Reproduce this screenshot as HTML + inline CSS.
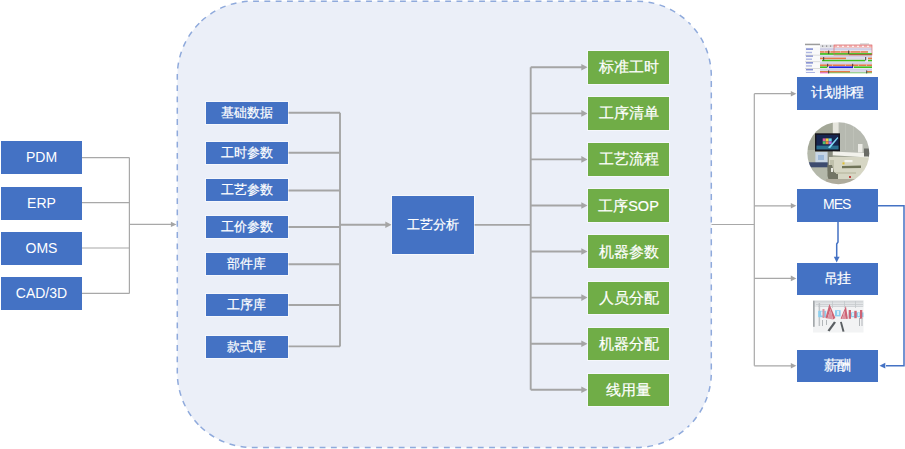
<!DOCTYPE html>
<html><head><meta charset="utf-8">
<style>
html,body{margin:0;padding:0;background:#fff;}
body{width:905px;height:449px;position:relative;overflow:hidden;font-family:"Liberation Sans",sans-serif;}
svg.bg{position:absolute;left:0;top:0;}
.b{position:absolute;color:#fff;font-weight:500;-webkit-text-stroke:0.2px #fff;display:flex;align-items:center;justify-content:center;white-space:nowrap;box-sizing:border-box;}
.bl{background:#4472C4;}
.gr{background:#70AD47;}
.l{-webkit-text-stroke:0;left:1px;width:81px;height:33px;font-size:14px;padding-bottom:1px;}
.m{left:205.6px;width:82px;height:22px;font-size:13.3px;outline:1px solid rgba(255,255,255,.5);}
.g{left:588px;width:81px;height:32.5px;font-size:14.5px;padding-top:1px;outline:1px solid rgba(255,255,255,.5);}
.r{left:796.5px;width:81.5px;height:32.6px;font-size:14px;letter-spacing:-1px;padding-right:1px;}
</style></head><body>
<svg class="bg" width="905" height="449" viewBox="0 0 905 449">
<defs>
<filter id="bl" x="-5%" y="-5%" width="110%" height="110%"><feGaussianBlur stdDeviation="0.45"/></filter>
<filter id="bl2" x="-5%" y="-5%" width="110%" height="110%"><feGaussianBlur stdDeviation="0.3"/></filter>
<clipPath id="cc"><circle cx="838.3" cy="153.2" r="31"/></clipPath>
</defs>
<rect x="177.3" y="1.2" width="534" height="446.3" rx="75" ry="75" fill="#EBEFF8"/>
<g fill="none" stroke="#8FAADC" stroke-width="1.5" stroke-dasharray="5.85 5.45">
<path d="M199.27,23.17A75,75 0 0 1 252.30,1.20H636.30A75,75 0 0 1 689.33,23.17" stroke-dashoffset="-3.10"/>
<path d="M689.33,23.17A75,75 0 0 1 711.30,76.20V372.50A75,75 0 0 1 689.33,425.53" stroke-dashoffset="-7.20"/>
<path d="M689.33,425.53A75,75 0 0 1 636.30,447.50H252.30A75,75 0 0 1 199.27,425.53" stroke-dashoffset="-8.05"/>
<path d="M199.27,425.53A75,75 0 0 1 177.30,372.50V76.20A75,75 0 0 1 199.27,23.17" stroke-dashoffset="-1.25"/>
</g>
<g stroke="#A8A8A8" stroke-width="1.2" fill="none">
<path d="M82,157.6H129.4M82,202.7H129.4M82,248H129.4M82,293.4H129.4M129.4,157.6V293.4"/>
<path d="M129.4,224.4H172"/>
<path d="M711.5,224.5H754.3M754.3,93.7V365.8"/>
<path d="M754.3,93.7H792M754.3,205.8H792M754.3,278.4H792M754.3,365.8H792"/>
</g>
<g stroke="#A5A5A5" stroke-width="1.9" fill="none">
<path d="M288,112.8H340M288,152.8H340M288,190.5H340M288,227H340M288,264.2H340M288,305H340M288,346.4H340M340,112.8V346.4"/>
<path d="M340,224.8H387"/>
<path d="M474,224.9H530.7M530.7,67.3V389.7"/>
<path d="M530.7,67.3H583M530.7,113.4H583M530.7,159.4H583M530.7,205.5H583M530.7,251.5H583M530.7,297.6H583M530.7,343.7H583M530.7,389.7H583"/>
</g>
<g fill="#A5A5A5">
<path d="M170.9,221.7L176.5,224.4L170.9,227.1Z"/>
<path d="M385.3,221.5L391.6,224.8L385.3,228.1Z"/>
<path d="M581.3,64.0L587.6,67.3L581.3,70.6Z"/>
<path d="M581.3,110.1L587.6,113.4L581.3,116.7Z"/>
<path d="M581.3,156.1L587.6,159.4L581.3,162.7Z"/>
<path d="M581.3,202.2L587.6,205.5L581.3,208.8Z"/>
<path d="M581.3,248.2L587.6,251.5L581.3,254.8Z"/>
<path d="M581.3,294.3L587.6,297.6L581.3,300.9Z"/>
<path d="M581.3,340.4L587.6,343.7L581.3,347.0Z"/>
<path d="M581.3,386.4L587.6,389.7L581.3,393.0Z"/>
<path d="M790.8,90.9L796.4,93.7L790.8,96.5Z"/>
<path d="M790.8,203.0L796.4,205.8L790.8,208.6Z"/>
<path d="M790.8,275.6L796.4,278.4L790.8,281.2Z"/>
<path d="M790.8,363.0L796.4,365.8L790.8,368.6Z"/>
</g>
<g stroke="#4472C4" stroke-width="1.5" fill="none">
<path d="M838,222V242L836.7,244V257"/>
<path d="M878,205.8H904V365.7H886"/>
</g>
<g fill="#4472C4">
<path d="M833.8,256.8L836.7,262.6L839.6,256.8Z"/>
<path d="M885.3,362.8L879.5,365.7L885.3,368.6Z"/>
</g>
<g id="gantt" filter="url(#bl2)">
<rect x="805" y="43" width="67" height="30" fill="#fff"/>
<rect x="805" y="43.7" width="15" height="1.5" fill="#3a3a3a" opacity=".5"/>
<rect x="860" y="43.5" width="9" height="1.2" fill="#aaa" opacity=".7"/>
<rect x="805" y="47" width="15" height="26" fill="#f9f9fa"/>
<g fill="#3548b8" opacity=".6">
<rect x="806" y="48.3" width="7" height="1.6"/><rect x="806" y="55.2" width="7" height="1.6"/><rect x="806" y="62" width="7" height="1.6"/><rect x="806" y="68.8" width="7" height="1.6"/>
</g>
<g fill="#7080d0" opacity=".55">
<rect x="806" y="51.8" width="6" height="1.4"/><rect x="806" y="58.5" width="6" height="1.4"/><rect x="806" y="65.2" width="6" height="1.4"/><rect x="806" y="72" width="9" height="1"/>
</g>
<g fill="#c8c8c8"><rect x="805" y="54.8" width="15" height=".6"/><rect x="805" y="61.5" width="15" height=".6"/><rect x="805" y="68.2" width="15" height=".6"/></g>
<rect x="820" y="47.6" width="52" height="25.4" fill="#e6e6ef"/>
<rect x="820" y="44.6" width="52" height="3" fill="#dcdce0"/>
<rect x="834" y="45" width="38" height="2.6" fill="#f2b0b0"/>
<g fill="#555" opacity=".7"><rect x="822" y="45.5" width="1.2" height="1.2"/><rect x="826" y="45.5" width="1.2" height="1.2"/><rect x="830" y="45.5" width="1.2" height="1.2"/></g>
<g fill="#fff"><rect x="837" y="45.6" width="2" height="1.2"/><rect x="842" y="45.6" width="2" height="1.2"/><rect x="847" y="45.6" width="2" height="1.2"/><rect x="852" y="45.6" width="2" height="1.2"/><rect x="857" y="45.6" width="2" height="1.2"/><rect x="862" y="45.6" width="2" height="1.2"/><rect x="867" y="45.6" width="2" height="1.2"/></g>
<g fill="#cfcfe6"><rect x="820" y="48.2" width="52" height="2"/><rect x="820" y="55.6" width="52" height="1.6"/><rect x="820" y="62.3" width="52" height="1.6"/><rect x="820" y="69" width="52" height="1.6"/></g>
<g fill="#dcd8e6"><rect x="846" y="57.6" width="18" height="1.6"/><rect x="850" y="71" width="16" height="1.6"/></g>
<g fill="#e47a48"><rect x="820" y="51.2" width="48" height="1.5"/><rect x="820" y="57.6" width="26" height="1.6"/><rect x="868" y="57.6" width="4" height="1.6"/><rect x="820" y="64.4" width="52" height="1.6"/><rect x="820" y="71" width="30" height="1.6"/><rect x="867" y="71" width="5" height="1.6"/></g>
<g fill="#fff" opacity=".6"><rect x="824" y="51.4" width="1" height="1"/><rect x="830" y="51.4" width="1" height="1"/><rect x="840" y="51.4" width="1" height="1"/><rect x="850" y="51.4" width="1" height="1"/><rect x="860" y="51.4" width="1" height="1"/><rect x="832" y="64.7" width="1" height="1"/><rect x="845" y="64.7" width="1" height="1"/><rect x="858" y="64.7" width="1" height="1"/><rect x="866" y="64.7" width="1" height="1"/></g>
<g fill="#3fbf1f"><rect x="820" y="53.1" width="52" height="1.7"/><rect x="822" y="59.8" width="43" height="1.5"/><rect x="868" y="59.8" width="4" height="1.5"/><rect x="820" y="66.4" width="7" height="1.6"/><rect x="854" y="66.4" width="18" height="1.6"/><rect x="828" y="72.6" width="44" height=".6"/></g>
<rect x="849" y="54.3" width="23" height=".8" fill="#8a4a1a"/>
<rect x="829" y="66.4" width="24" height="1.7" fill="#1a22e0"/>
<rect x="820" y="72.5" width="8" height=".8" fill="#e050d0"/>
<rect x="834" y="45" width="38" height="10" fill="none" stroke="#e06060" stroke-width=".6"/>
<g fill="#333" opacity=".75"><rect x="828" y="50.5" width="1.2" height="3.5"/><rect x="848" y="50.5" width="1.2" height="3.5"/><rect x="823" y="57" width="1.2" height="3.5"/><rect x="865" y="57" width="1.2" height="3.5"/><rect x="827" y="63.8" width="1.2" height="3.5"/><rect x="852" y="63.8" width="1.2" height="3.5"/><rect x="828" y="70.4" width="1.2" height="3"/><rect x="866" y="70.4" width="1.2" height="3"/></g>
</g>
<g clip-path="url(#cc)"><g id="photo" filter="url(#bl)">
<rect x="806" y="121" width="66" height="66" fill="#a3a797"/>
<rect x="838" y="121" width="33" height="32" fill="#b6b9b0"/>
<g fill="#c2c5bc" opacity=".7"><rect x="845" y="122" width="1" height="28"/><rect x="853" y="122" width="1" height="28"/></g>
<rect x="832.8" y="121" width="5.8" height="13" fill="#e6e6de"/>
<rect x="806" y="150" width="24" height="36" fill="#b4b8aa"/>
<rect x="815.4" y="152" width="12.3" height="11" fill="#c8d6e4"/>
<rect x="818" y="155" width="6" height="5" fill="#9cb8d8"/>
<rect x="808" y="162.3" width="20" height="5" fill="#3c4b6e"/>
<rect x="827.7" y="151" width="5" height="20" fill="#8a8d80"/>
<rect x="815" y="133.3" width="25" height="18.1" fill="#15161e"/>
<rect x="816.5" y="134.8" width="22" height="14.6" fill="#172550"/>
<rect x="816.5" y="145.6" width="22" height="3.8" fill="#2a7090"/>
<rect x="822.7" y="138.4" width="3" height="2.9" fill="#e060a0"/>
<rect x="825.7" y="138.4" width="3" height="2.9" fill="#f0d040"/>
<rect x="828.7" y="138.4" width="3" height="2.9" fill="#60d0e8"/>
<rect x="822.7" y="141.3" width="3" height="2.9" fill="#50c070"/>
<rect x="825.7" y="141.3" width="3" height="2.9" fill="#f09040"/>
<rect x="828.7" y="141.3" width="3" height="2.9" fill="#b070e0"/>
<path d="M828,147.5L837.5,137L838.3,138L830,148.3Z" fill="#7fd8f4"/>
<path d="M829,157L869,157L869,176L852,182L829,180Z" fill="#d6d6c4"/>
<path d="M832.8,151.4L868.3,153.3L868.3,157.5L832.8,155.2Z" fill="#f2f2ec"/>
<rect x="858" y="144" width="4.5" height="8.5" fill="#ecece6"/>
<rect x="864" y="148.5" width="6" height="8" fill="#6a6c66"/>
<rect x="844.5" y="160" width="8" height="2.2" fill="#f4f4ee"/>
<rect x="842.5" y="162.4" width="2" height="2" fill="#e0c030"/>
<path d="M842,166L861,165.5L861,168L842,168.3Z" fill="#6f7358"/>
<rect x="830" y="160" width="4" height="20" fill="#bfc0ab"/>
<path d="M827.5,165L832,165L834,172L838,174L838,180L829,181L827.5,176Z" fill="#737565"/>
<rect x="831" y="168" width="2" height="4" fill="#e8e8e0"/>
<rect x="836" y="172" width="20" height="2" fill="#c4c4ae"/>
<rect x="826" y="179" width="44" height="8" fill="#aeab9c"/>
<rect x="849" y="176" width="2" height="2" fill="#c04040"/>
</g></g>
<g id="factory" filter="url(#bl)">
<rect x="813" y="300.4" width="50.5" height="32.1" fill="#f2f3f4"/>
<rect x="813" y="300.4" width="50.5" height="6.5" fill="#e2e5e7"/>
<g fill="#c4c8cb"><rect x="815" y="301.5" width="48" height=".8"/><rect x="816" y="304" width="47" height=".7"/><rect x="818" y="306.3" width="45" height=".6"/><rect x="832" y="301" width=".8" height="7"/><rect x="844" y="301" width=".8" height="7"/><rect x="855" y="301" width=".8" height="7"/></g>
<rect x="813" y="300.8" width="1.7" height="26" fill="#a4a8ab"/>
<rect x="818.6" y="303" width="1.5" height="23" fill="#c0c4c7"/>
<g fill="#8dd0ef"><rect x="818.2" y="310.8" width="8" height="6.4"/><rect x="835" y="310.2" width="5.6" height="6.2"/><rect x="848.7" y="312.4" width="14.8" height="4.8"/></g>
<g fill="#d8eef8"><rect x="821" y="311.5" width="2" height="4"/><rect x="837" y="311" width="2" height="4"/><rect x="852" y="313" width="2" height="3"/><rect x="858" y="313" width="1.5" height="3"/></g>
<g fill="#cd6474"><path d="M829.4,304L835.4,318L833,319.5L830.5,309L827.5,318.5L825.4,318Z"/><path d="M845.9,306L847.9,318.8L845.5,319L844.5,311L842,319L840.6,318.5Z"/><rect x="848.7" y="310" width="2.3" height="8.8"/><rect x="854.3" y="310.8" width="2.4" height="7.4"/><rect x="860" y="310" width="2.3" height="8.8"/></g>
<g fill="#dc95a2"><path d="M830.5,309L833,319.5L827.5,318.5Z"/><path d="M844.5,311L845.5,319L842,319Z"/><rect x="822.5" y="309" width="2" height="9"/></g>
<g fill="#5a5e62"><path d="M834,321.5L836,322.5L829.5,331.5L827.5,330.5Z"/><path d="M840,322L841.8,321.8L844.5,331.5L842.5,331.8Z"/></g>
<g fill="#b2b6b9"><rect x="859" y="318" width="1" height="8"/><rect x="861.5" y="318" width="1" height="8"/><rect x="822" y="320" width="1" height="6"/><rect x="826" y="320" width="1" height="5"/></g>
</g>
</svg>

<div class="b bl l" style="top:141px">PDM</div>
<div class="b bl l" style="top:187px">ERP</div>
<div class="b bl l" style="top:232px">OMS</div>
<div class="b bl l" style="top:277.3px">CAD/3D</div>

<div class="b bl m" style="top:102px">基础数据</div>
<div class="b bl m" style="top:142px">工时参数</div>
<div class="b bl m" style="top:179.4px">工艺参数</div>
<div class="b bl m" style="top:216.3px">工价参数</div>
<div class="b bl m" style="top:253.4px">部件库</div>
<div class="b bl m" style="top:294.4px">工序库</div>
<div class="b bl m" style="top:335.5px">款式库</div>

<div class="b bl" style="left:392px;top:196px;width:82px;height:58px;font-size:13.3px;outline:1px solid rgba(255,255,255,.55);">工艺分析</div>

<div class="b gr g" style="top:51px">标准工时</div>
<div class="b gr g" style="top:97.1px">工序清单</div>
<div class="b gr g" style="top:143.2px">工艺流程</div>
<div class="b gr g" style="top:189.3px">工序SOP</div>
<div class="b gr g" style="top:235.4px">机器参数</div>
<div class="b gr g" style="top:281.5px">人员分配</div>
<div class="b gr g" style="top:327.6px">机器分配</div>
<div class="b gr g" style="top:373.7px">线用量</div>

<div class="b bl r" style="top:77px">计划排程</div>
<div class="b bl r" style="top:189px;padding-bottom:2px;-webkit-text-stroke:0">MES</div>
<div class="b bl r" style="top:262.8px">吊挂</div>
<div class="b bl r" style="top:349.6px">薪酬</div>
</body></html>
